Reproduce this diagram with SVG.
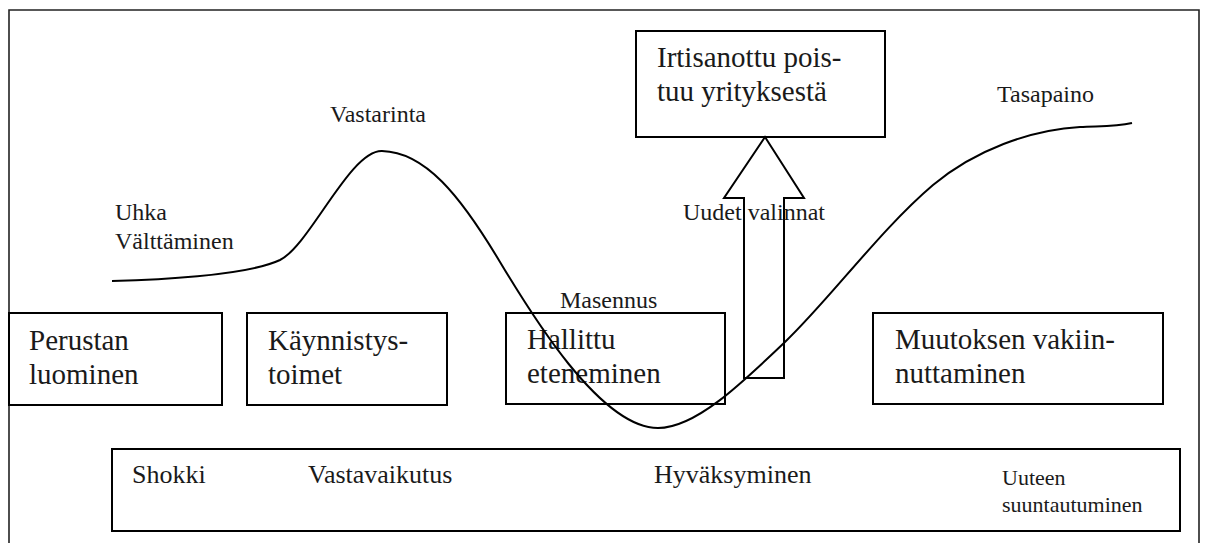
<svg xmlns="http://www.w3.org/2000/svg" width="1205" height="543" viewBox="0 0 1205 543" font-family="Liberation Serif, serif">
<style>
.box{fill:none;stroke:#000;stroke-width:2}
.frame{fill:none;stroke:#222;stroke-width:1.6}
text{font-family:'Liberation Serif',serif;fill:#1a1a1a}
.big{font-size:29px}
.lab{font-size:24px}
.bot{font-size:26px}
.sm{font-size:22px}
.curve{fill:none;stroke:#000;stroke-width:2}
</style>
<rect width="1205" height="543" fill="#fff"/>
<g id="frame">
<polyline class="frame" points="9,543 9,10 1199,10 1199,543"/>
</g>
<g id="perustan">
<rect class="box" x="9" y="313" width="213" height="92"/>
<text class="big" x="29" y="350">Perustan</text>
<text class="big" x="29" y="384">luominen</text>
</g>
<g id="kaynnistys">
<rect class="box" x="247" y="313" width="200" height="92"/>
<text class="big" x="268" y="350">Käynnistys-</text>
<text class="big" x="268" y="384">toimet</text>
</g>
<g id="hallittu">
<rect class="box" x="506" y="313" width="219" height="91"/>
<text class="big" x="527" y="349">Hallittu</text>
<text class="big" x="527" y="383">eteneminen</text>
</g>
<g id="muutoksen">
<rect class="box" x="873" y="313" width="290" height="91"/>
<text class="big" x="895" y="349">Muutoksen vakiin-</text>
<text class="big" x="895" y="383">nuttaminen</text>
</g>
<g id="irtisanottu">
<rect class="box" x="636" y="31" width="249" height="106"/>
<text class="big" x="657" y="67">Irtisanottu pois-</text>
<text class="big" x="657" y="101">tuu yrityksestä</text>
</g>
<g id="phases">
<rect class="box" x="112" y="449" width="1068" height="82"/>
<text class="bot" x="132" y="483">Shokki</text>
<text class="bot" x="308" y="483">Vastavaikutus</text>
<text class="bot" x="654" y="483">Hyväksyminen</text>
<text class="sm" x="1002" y="485">Uuteen</text>
<text class="sm" x="1002" y="512">suuntautuminen</text>
</g>
<g id="connectors">
<path class="curve" d="M112,281 C180,279 250,274 280,260 C310,245 350,150 382,151 C425,152 460,195 500,262 C530,312 600,428 658,428 C695,428 740,385 785,342 C830,299 880,230 933,185 C975,150 1030,130 1080,127 C1100,126 1115,127 1132,123"/>
<polygon class="box" points="765,137 804,198 784,198 784,378 744,378 744,198 724,198"/>
</g>
<g id="labels">
<text class="lab" x="330" y="122">Vastarinta</text>
<text class="lab" x="115" y="220">Uhka</text>
<text class="lab" x="115" y="249">Välttäminen</text>
<text class="lab" x="560" y="308">Masennus</text>
<text class="lab" x="683" y="220">Uudet valinnat</text>
<text class="lab" x="997" y="102">Tasapaino</text>
</g>
</svg>
